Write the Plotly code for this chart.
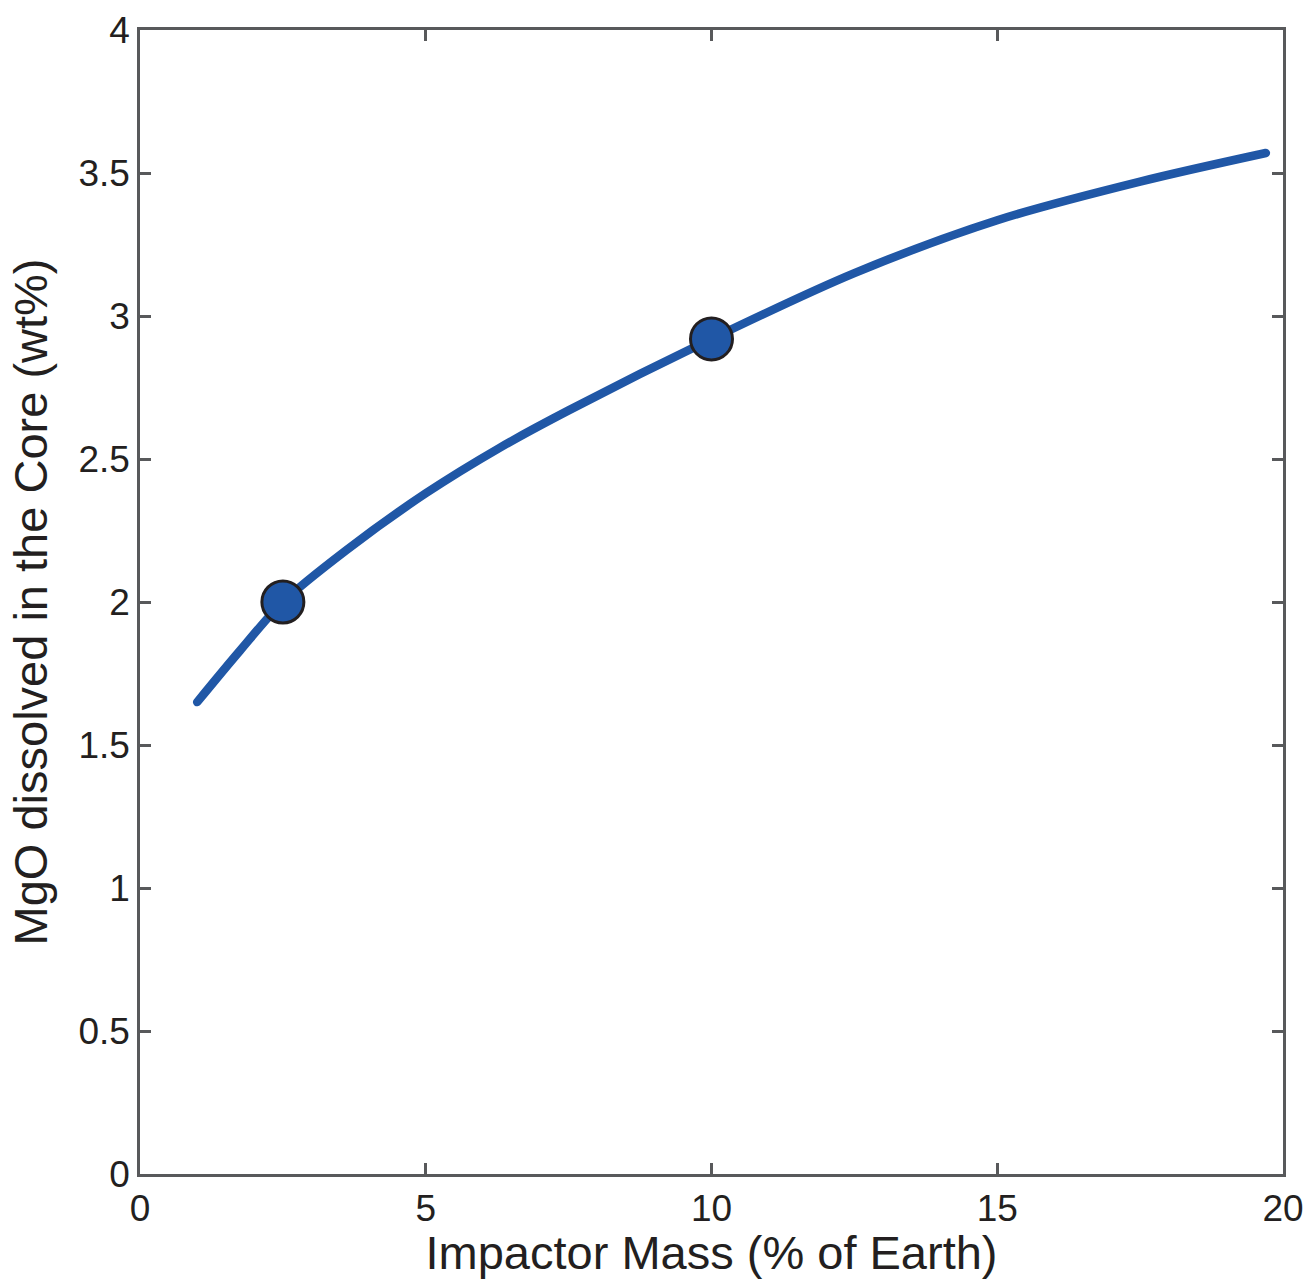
import plotly.graph_objects as go

# Curve
curve_x = [1.0, 1.75, 2.5, 3.6, 5.0, 6.3, 7.5, 10.0, 12.5, 15.0, 17.5, 19.7]
curve_y = [1.65, 1.83, 2.00, 2.18, 2.38, 2.54, 2.67, 2.92, 3.15, 3.335, 3.47, 3.57]

# Highlighted points
point_x = [2.5, 10.0]
point_y = [2.0, 2.92]

x_ticks = [0, 5, 10, 15, 20]
x_ticklabels = ["0", "5", "10", "15", "20"]
y_ticks = [0, 0.5, 1, 1.5, 2, 2.5, 3, 3.5, 4]
y_ticklabels = ["0", "0.5", "1", "1.5", "2", "2.5", "3", "3.5", "4"]

blue = "#2057A6"
axis_col = "#58595B"
text_col = "#231F20"
font_fam = "Liberation Sans, Arial, Helvetica, sans-serif"

fig = go.Figure()
fig.add_trace(go.Scatter(
    x=curve_x, y=curve_y, mode="lines",
    line=dict(color=blue, width=8.5, shape="spline", smoothing=0.9),
    showlegend=False, hoverinfo="skip",
))
fig.add_trace(go.Scatter(
    x=point_x, y=point_y, mode="markers",
    marker=dict(color=blue, size=42, line=dict(color="#231F20", width=3)),
    showlegend=False,
))

axis_common = dict(
    showline=True, linecolor=axis_col, linewidth=2.5, mirror="ticks",
    ticks="inside", ticklen=11, tickwidth=2.5, tickcolor=axis_col,
    showgrid=False, zeroline=False, automargin=False,
    tickfont=dict(family=font_fam, size=37, color=text_col),
)

fig.update_xaxes(
    range=[0, 20], tickvals=x_ticks, ticktext=x_ticklabels,
    title=dict(text="Impactor Mass (% of Earth)", standoff=14,
               font=dict(family=font_fam, size=47, color=text_col)),
    **axis_common,
)
fig.update_yaxes(
    range=[0, 4], tickvals=y_ticks, ticktext=y_ticklabels,
    title=dict(text="MgO dissolved in the Core (wt%)", standoff=16,
               font=dict(family=font_fam, size=47, color=text_col)),
    **axis_common,
)

fig.update_layout(
    width=1309, height=1279,
    margin=dict(l=140, r=26, t=30, b=105),
    paper_bgcolor="white", plot_bgcolor="white",
    font=dict(family=font_fam, color=text_col),
)

fig.write_html(
    "out.html",
    config={"displayModeBar": False},
    post_script=(
        "document.body.style.margin='0';document.body.style.overflow='hidden';"
        "document.querySelectorAll('.scatterlayer .js-line').forEach(function(p){"
        "p.style.strokeLinecap='round';});"
    ),
)
